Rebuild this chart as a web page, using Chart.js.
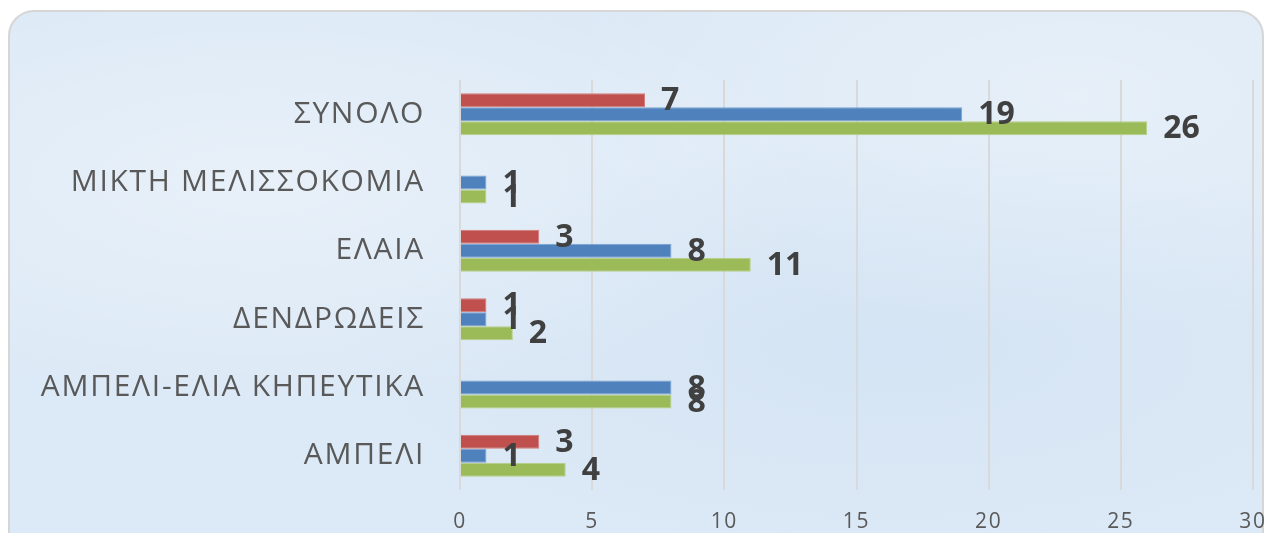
<!DOCTYPE html>
<html>
<head>
<meta charset="utf-8">
<script src="https://cdn.jsdelivr.net/npm/chart.js@4/dist/chart.umd.min.js"></script>
<style>
  html, body { margin: 0; padding: 0; background: #fff; overflow: hidden; }
  #card {
    position: absolute; left: 8px; top: 10px; width: 1252px; height: 560px;
    border: 2px solid #d6d6d6; border-radius: 26px;
    background-color: #dce9f6;
    background-image:
      radial-gradient(ellipse at 20% 30%, rgba(255,255,255,0.35), rgba(255,255,255,0) 40%),
      radial-gradient(ellipse at 70% 60%, rgba(200,220,240,0.35), rgba(200,220,240,0) 45%),
      radial-gradient(ellipse at 85% 15%, rgba(255,255,255,0.3), rgba(255,255,255,0) 35%);
  }
  #wrap { position: absolute; left: 0; top: 0; width: 1271px; height: 533px; }
</style>
</head>
<body>
<div id="card"></div>
<div id="wrap"><canvas id="chartjs"></canvas></div>
<script>
const categories = ['ΣΥΝΟΛΟ', 'ΜΙΚΤΗ ΜΕΛΙΣΣΟΚΟΜΙΑ', 'ΕΛΑΙΑ', 'ΔΕΝΔΡΩΔΕΙΣ', 'ΑΜΠΕΛΙ-ΕΛΙΑ ΚΗΠΕΥΤΙΚΑ', 'ΑΜΠΕΛΙ'];
const redValues = [7, null, 3, 1, null, 3];
const blueValues = [19, 1, 8, 1, 8, 1];
const greenValues = [26, 1, 11, 2, 8, 4];
const xTicks = [0, 5, 10, 15, 20, 25, 30];

// wider category text, like the original
const textSpacing = {
    id: 'textSpacing',
    beforeDraw(chart) { chart.ctx.letterSpacing = '1.7px'; },
    afterDraw(chart) { chart.ctx.letterSpacing = '0px'; }
};

// draws the value next to the end of each bar
const valueLabels = {
    id: 'valueLabels',
    afterDatasetsDraw(chart) {
        const ctx = chart.ctx;
        ctx.save();
        ctx.letterSpacing = '0px';
        ctx.font = 'bold 32px "Open Sans"';
        ctx.fillStyle = '#404040';
        ctx.textBaseline = 'middle';
        ctx.textAlign = 'left';
        chart.data.datasets.forEach((ds, i) => {
            chart.getDatasetMeta(i).data.forEach((bar, j) => {
                if (ds.data[j] == null) return;
                ctx.fillText(ds.data[j], bar.x + 16, bar.y + 1);
            });
        });
        ctx.restore();
    }
};

let chartNode = document.getElementById('chartjs').getContext('2d');
let barChart = new Chart(chartNode, {
    type: 'bar',
    data: {
        labels: categories,
        datasets: [
            { data: redValues, backgroundColor: '#c0504d', borderColor: '#d47a77', borderWidth: 1 },
            { data: blueValues, backgroundColor: '#4f81bd', borderColor: '#7aa0cf', borderWidth: 1 },
            { data: greenValues, backgroundColor: '#9bbb59', borderColor: '#b7d084', borderWidth: 1 }
        ]
    },
    options: {
        indexAxis: 'y',
        responsive: true,
        maintainAspectRatio: false,
        animation: false,
        categoryPercentage: 0.615,
        barPercentage: 1,
        layout: { padding: { top: 80, right: 18, left: 0, bottom: 0 } },
        plugins: {
            legend: { display: false },
            tooltip: { enabled: false }
        },
        scales: {
            x: {
                min: 0,
                max: 30,
                afterBuildTicks: (scale) => { scale.ticks = xTicks.map(v => ({ value: v })); },
                afterFit: (scale) => {
                    scale.height = 43;
                    scale.paddingRight = 0;
                    scale.paddingLeft = 0;
                },
                grid: { color: '#d9d9d9', lineWidth: 2, drawTicks: false },
                border: { display: false },
                ticks: { color: '#595959', padding: 19, font: { family: 'Open Sans', size: 21 } }
            },
            y: {
                afterFit: (scale) => {
                    scale.width = 460;
                    scale.paddingTop = 0;
                    scale.paddingBottom = 0;
                },
                grid: { display: false, drawTicks: false },
                border: { display: false },
                ticks: { color: '#595959', padding: 35, font: { family: 'Open Sans', size: 30 } }
            }
        }
    },
    plugins: [textSpacing, valueLabels]
});
</script>
</body>
</html>
